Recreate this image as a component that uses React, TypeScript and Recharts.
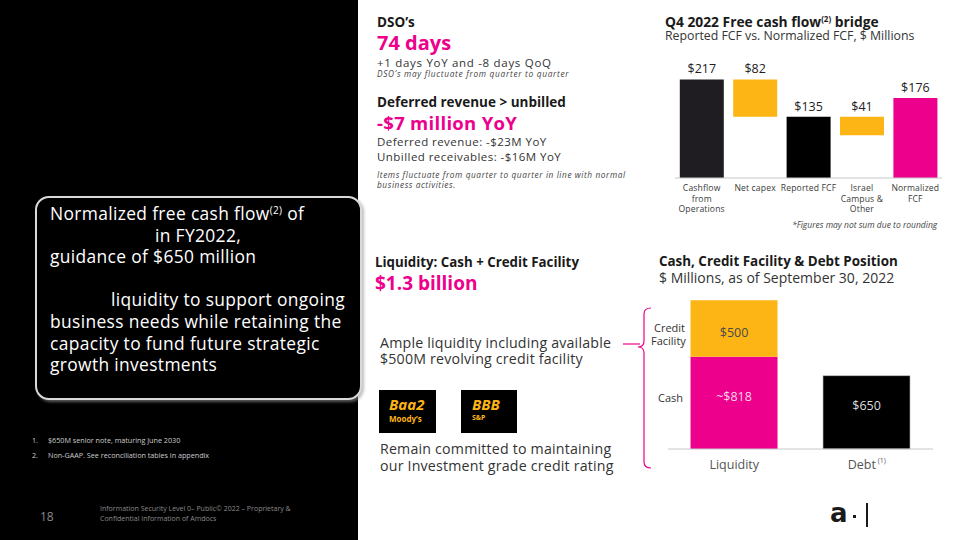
import React from "react";
import { BarChart, Bar, XAxis, YAxis, Cell, LabelList } from "recharts";

// Q4 2022 free cash flow bridge
const fcfCategories = ["Cashflow\nfrom\nOperations", "Net capex", "Reported FCF", "Israel\nCampus &\nOther", "Normalized\nFCF"];
const fcfValues = [217, 82, 135, 41, 176];
const fcfFloat = [0, 135, 0, 94, 0];

// Cash, credit facility & debt position
const posCategories = ["Liquidity", "Debt"];
const cashValues = [818, 0];
const creditValues = [500, 0];
const debtValues = [0, 650];

const FONT = "'Open Sans', sans-serif";
const PINK = "#ec008c";
const ORANGE = "#fdb515";
const FCF_COLORS = ["#1f1d22", ORANGE, "#000000", ORANGE, PINK];

const fcfData = fcfCategories.map((name, i) => ({ name, base: fcfFloat[i], value: fcfValues[i] }));
const posData = posCategories.map((name, i) => ({
  name,
  cash: cashValues[i],
  credit: creditValues[i],
  debt: debtValues[i],
}));

const FcfTick = (props: any) => {
  const { x, y, payload } = props;
  const lines = String(payload.value).split("\n");
  return (
    <text x={x} y={y + 5} textAnchor="middle" fill="#3a3a3a" fontSize={8.6} letterSpacing={0.15} fontFamily={FONT}>
      {lines.map((l, i) => (
        <tspan key={i} x={x} dy={i === 0 ? 0 : 10.5}>
          {l}
        </tspan>
      ))}
    </text>
  );
};

const PosTick = (props: any) => {
  const { x, y, payload } = props;
  return (
    <text x={x} y={y + 12} textAnchor="middle" fill="#555" fontSize={12.5} fontFamily={FONT}>
      {payload.value}
      {payload.value === "Debt" && (
        <tspan fontSize={7} dy={-6}>
          {" (1)"}
        </tspan>
      )}
    </text>
  );
};

const inside = (color: string, prefix: string, dy: number) => (p: any) => {
  const { x, y, width, height, value } = p;
  if (!value) return null;
  return (
    <text
      x={x + width / 2}
      y={y + height / 2 + dy}
      textAnchor="middle"
      dominantBaseline="central"
      fill={color}
      fontSize={12.5}
      fontFamily={FONT}
    >
      {prefix}${value}
    </text>
  );
};

const T = (props: { x: number; y: number; size: number; ls?: number; children: React.ReactNode; style?: React.CSSProperties }) => {
  const lh = Math.round(props.size * 1.1);
  return (
    <div
      style={{
        position: "absolute",
        left: props.x,
        top: props.y - lh / 2,
        fontSize: props.size,
        lineHeight: `${lh}px`,
        letterSpacing: props.ls ?? 0,
        whiteSpace: "nowrap",
        color: "#333",
        ...props.style,
      }}
    >
      {props.children}
    </div>
  );
};

export default function App() {
  const bold: React.CSSProperties = { fontWeight: 700, color: "#1a1a1a" };
  const pinkBold: React.CSSProperties = { fontWeight: 700, color: PINK };
  const italic: React.CSSProperties = { fontStyle: "italic", color: "#444" };
  const white: React.CSSProperties = { color: "#fff" };
  const box = 17.4;
  const boxLs = 0.35;
  const body = 14.2;
  const bodyLs = 0.2;

  return (
    <div
      style={{
        position: "absolute",
        left: 0,
        top: 0,
        width: 960,
        height: 540,
        background: "#fff",
        overflow: "hidden",
        fontFamily: FONT,
      }}
    >
      {/* left panel */}
      <div style={{ position: "absolute", left: 0, top: 0, width: 358, height: 540, background: "#000" }} />
      <div
        style={{
          position: "absolute",
          left: 35,
          top: 196,
          width: 323,
          height: 200,
          border: "2px solid #d9d9d9",
          borderRadius: 14,
          background: "#000",
          boxShadow: "2px 2px 3px rgba(150,150,150,0.6)",
        }}
      />
      <T x={50} y={213} size={box} ls={boxLs} style={white}>
        Normalized free cash flow<sup style={{ fontSize: 10, verticalAlign: "6px", lineHeight: 0 }}>(2)</sup> of
      </T>
      <T x={155} y={235} size={box} ls={boxLs} style={white}>in FY2022,</T>
      <T x={50} y={256} size={box} ls={boxLs} style={white}>guidance of $650 million</T>
      <T x={111} y={299} size={box} ls={boxLs} style={white}>liquidity to support ongoing</T>
      <T x={50} y={321} size={box} ls={boxLs} style={white}>business needs while retaining the</T>
      <T x={50} y={343} size={box} ls={boxLs} style={white}>capacity to fund future strategic</T>
      <T x={50} y={364} size={box} ls={boxLs} style={white}>growth investments</T>

      <T x={32} y={440} size={7.2} style={{ color: "#ccc" }}>1.</T>
      <T x={48} y={440} size={7.2} style={{ color: "#ccc" }}>$650M senior note, maturing June 2030</T>
      <T x={32} y={455} size={7.2} style={{ color: "#ccc" }}>2.</T>
      <T x={48} y={455} size={7.2} style={{ color: "#ccc" }}>Non-GAAP. See reconciliation tables in appendix</T>
      <T x={40} y={516} size={12} style={{ color: "#8a8a8a" }}>18</T>
      <T x={100} y={509} size={7} style={{ color: "#8a8a8a" }}>Information Security Level 0– Public© 2022 – Proprietary &amp;</T>
      <T x={100} y={519} size={7} style={{ color: "#8a8a8a" }}>Confidential Information of Amdocs</T>

      {/* middle column */}
      <T x={377} y={22} size={13.5} style={bold}>DSO’s</T>
      <T x={377} y={43} size={20} style={pinkBold}>74 days</T>
      <T x={377} y={62} size={11.5} ls={0.7}>+1 days YoY and -8 days QoQ</T>
      <T x={377} y={73.5} size={8.3} ls={0.7} style={italic}>DSO’s may fluctuate from quarter to quarter</T>
      <T x={377} y={102} size={13.5} style={bold}>Deferred revenue &gt; unbilled</T>
      <T x={377} y={123} size={18.5} ls={0.3} style={pinkBold}>-$7 million YoY</T>
      <T x={377} y={141} size={11.5} ls={0.45}>Deferred revenue: -$23M YoY</T>
      <T x={377} y={156} size={11.5} ls={0.45}>Unbilled receivables: -$16M YoY</T>
      <T x={377} y={174} size={8.3} ls={0.58} style={italic}>Items fluctuate from quarter to quarter in line with normal</T>
      <T x={377} y={184} size={8.3} ls={0.58} style={italic}>business activities.</T>

      <T x={375} y={262} size={13.3} style={bold}>Liquidity: Cash + Credit Facility</T>
      <T x={375} y={283} size={19} style={pinkBold}>$1.3 billion</T>
      <T x={380} y={343} size={body} ls={bodyLs}>Ample liquidity including available</T>
      <T x={380} y={359} size={body} ls={bodyLs}>$500M revolving credit facility</T>
      <div style={{ position: "absolute", left: 379, top: 390, width: 57, height: 43, background: "#000" }} />
      <T x={389} y={404} size={15} style={{ color: ORANGE, fontWeight: 700, fontStyle: "italic" }}>Baa2</T>
      <T x={389} y={418} size={8} style={{ color: ORANGE, fontWeight: 700 }}>Moody’s</T>
      <div style={{ position: "absolute", left: 461, top: 390, width: 56, height: 43, background: "#000" }} />
      <T x={472} y={404} size={15} style={{ color: ORANGE, fontWeight: 700, fontStyle: "italic" }}>BBB</T>
      <T x={472} y={418} size={7} style={{ color: ORANGE, fontWeight: 700 }}>S&amp;P</T>
      <T x={380} y={449} size={body} ls={bodyLs}>Remain committed to maintaining</T>
      <T x={380} y={466} size={body} ls={bodyLs}>our Investment grade credit rating</T>

      {/* FCF bridge */}
      <T x={665} y={21} size={13.8} style={bold}>
        Q4 2022 Free cash flow<sup style={{ fontSize: 8, verticalAlign: "5px", lineHeight: 0 }}>(2)</sup> bridge
      </T>
      <T x={665} y={36} size={12.3}>Reported FCF vs. Normalized FCF, $ Millions</T>
      <div style={{ position: "absolute", left: 660, top: 50 }}>
        <BarChart
          width={300}
          height={180}
          data={fcfData}
          margin={{ top: 19, right: 18, bottom: 8, left: 15 }}
          barCategoryGap="9%"
        >
          <XAxis
            dataKey="name"
            height={44}
            interval={0}
            tickLine={false}
            axisLine={{ stroke: "#c8c8c8" }}
            tick={<FcfTick />}
          />
          <YAxis hide domain={[0, 240]} />
          <Bar dataKey="base" stackId="w" fill="transparent" isAnimationActive={false} />
          <Bar dataKey="value" stackId="w" isAnimationActive={false}>
            {fcfData.map((_, i) => (
              <Cell key={i} fill={FCF_COLORS[i]} />
            ))}
            <LabelList
              dataKey="value"
              position="top"
              offset={6}
              formatter={(v: any) => `$${v}`}
              style={{ fill: "#222", fontSize: 12.5, fontFamily: FONT }}
            />
          </Bar>
        </BarChart>
      </div>
      <T x={792} y={224} size={8.5} style={italic}>*Figures may not sum due to rounding</T>

      {/* Cash, credit facility & debt */}
      <T x={659} y={261} size={13.4} style={bold}>Cash, Credit Facility &amp; Debt Position</T>
      <T x={659} y={277} size={14}>$ Millions, as of September 30, 2022</T>
      <T x={654} y={328} size={11} style={{ color: "#333" }}>Credit</T>
      <T x={651} y={341} size={11} style={{ color: "#333" }}>Facility</T>
      <T x={658} y={398} size={11} style={{ color: "#333" }}>Cash</T>
      <svg style={{ position: "absolute", left: 615, top: 300 }} width={45} height={175}>
        <line x1={8} y1={44} x2={25} y2={44} stroke={PINK} strokeWidth={1.2} />
        <path
          d="M36 8 Q29 8 29 14 L29 41 Q29 47 23 47 Q29 47 29 53 L29 162 Q29 168 36 168"
          fill="none"
          stroke={PINK}
          strokeWidth={1.2}
        />
      </svg>
      <div style={{ position: "absolute", left: 650, top: 280 }}>
        <BarChart
          width={300}
          height={200}
          data={posData}
          margin={{ top: 11, right: 17, bottom: 6, left: 18 }}
          barCategoryGap="17%"
        >
          <XAxis
            dataKey="name"
            height={25}
            tickLine={false}
            axisLine={{ stroke: "#c8c8c8" }}
            tick={<PosTick />}
          />
          <YAxis hide domain={[0, 1400]} />
          <Bar dataKey="cash" stackId="p" fill={PINK} isAnimationActive={false}>
            <LabelList dataKey="cash" content={inside("#fbd3ea", "~", -6)} />
          </Bar>
          <Bar dataKey="credit" stackId="p" fill={ORANGE} isAnimationActive={false}>
            <LabelList dataKey="credit" content={inside("#4a4a4a", "", 4)} />
          </Bar>
          <Bar dataKey="debt" stackId="p" fill="#000" stroke="#bbb" strokeWidth={0.6} isAnimationActive={false}>
            <LabelList dataKey="debt" content={inside("#dcdcdc", "", -7)} />
          </Bar>
        </BarChart>
      </div>

      {/* logo */}
      <T x={830} y={513} size={26} style={{ fontWeight: 700, color: "#1a1a1a", fontFamily: "'DejaVu Sans', sans-serif" }}>a</T>
      <div style={{ position: "absolute", left: 853, top: 515, width: 3, height: 3, background: "#1a1a1a" }} />
      <div style={{ position: "absolute", left: 866, top: 503, width: 1.5, height: 24, background: "#1a1a1a" }} />
    </div>
  );
}
